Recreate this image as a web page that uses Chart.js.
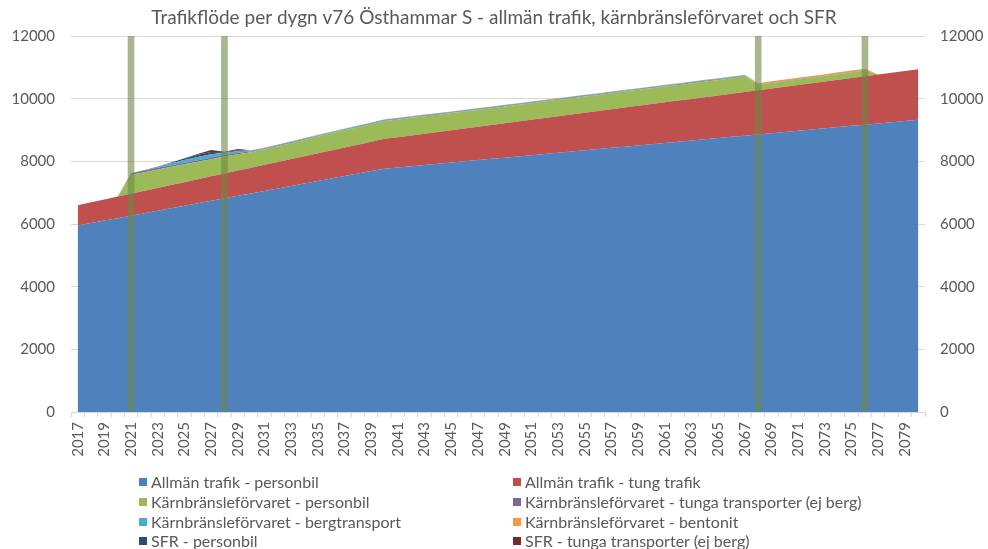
<!DOCTYPE html>
<html>
<head>
<meta charset="utf-8">
<script src="https://cdn.jsdelivr.net/npm/chart.js@4.4.1/dist/chart.umd.min.js"></script>
<style>
  html, body { margin: 0; padding: 0; background: #ffffff; }
  #wrap { position: relative; width: 988px; height: 549px; }
  #c { position: absolute; left: 0; top: 0; }
  .lg { position: absolute; font-family: Lato, "Open Sans", sans-serif; font-size: 16px; color: #595959; white-space: nowrap; line-height: 18px; }
  .sw { position: absolute; width: 8px; height: 8px; }
</style>
</head>
<body>
<div id="wrap">
  <canvas id="c" width="988" height="549"></canvas>
  <div id="legend"></div>
</div>
<script>
const chartTitle = "Trafikflöde per dygn v76 Östhammar S - allmän trafik, kärnbränsleförvaret och SFR";

const years = [2017,2018,2019,2020,2021,2022,2023,2024,2025,2026,2027,2028,2029,2030,2031,2032,
  2033,2034,2035,2036,2037,2038,2039,2040,2041,2042,2043,2044,2045,2046,2047,2048,
  2049,2050,2051,2052,2053,2054,2055,2056,2057,2058,2059,2060,2061,2062,2063,2064,
  2065,2066,2067,2068,2069,2070,2071,2072,2073,2074,2075,2076,2077,2078,2079,2080];

const seriesNames = [
  "Allmän trafik - personbil",
  "Allmän trafik - tung trafik",
  "Kärnbränsleförvaret - personbil",
  "Kärnbränsleförvaret - tunga transporter (ej berg)",
  "Kärnbränsleförvaret - bergtransport",
  "Kärnbränsleförvaret - bentonit",
  "SFR - personbil",
  "SFR - tunga transporter (ej berg)"
];

const allmanPersonbil = [5950,6029,6108,6187,6266,6345,6424,6503,6582,6661,6740,6819,6898,6977,7056,7135,
  7214,7293,7372,7451,7530,7609,7688,7767,7806,7845,7884,7923,7962,8001,8040,8079,
  8118,8157,8196,8235,8274,8313,8352,8391,8430,8469,8508,8547,8586,8625,8664,8703,
  8742,8781,8820,8859,8898,8937,8976,9015,9054,9093,9132,9171,9210,9249,9288,9327];

const allmanTung = [650,663,676,689,702,715,728,741,754,767,780,793,806,819,832,845,
  858,871,884,897,910,923,936,950,966,983,999,1016,1032,1049,1065,1082,
  1098,1115,1131,1148,1164,1181,1197,1214,1230,1247,1263,1280,1296,1313,1329,1346,
  1362,1379,1395,1412,1428,1445,1461,1478,1494,1511,1527,1544,1560,1577,1593,1610];

const kbfPersonbil = [0,0,0,0,600,595,590,580,570,560,550,540,520,490,495,505,
  515,525,535,545,550,555,560,570,565,560,555,550,545,540,540,535,
  535,530,530,525,525,520,520,515,515,510,510,505,505,500,500,500,
  495,495,490,170,172,174,176,178,180,182,184,186,0,0,0,0];

const kbfTunga = [0,0,0,0,50,50,50,50,50,50,50,50,50,30,20,20,
  20,20,20,20,20,20,20,20,20,20,20,20,20,20,20,20,
  20,20,20,20,20,20,20,20,20,20,20,20,20,20,20,20,
  20,20,20,15,15,15,15,15,15,15,15,15,0,0,0,0];

const kbfBerg = [0,0,0,0,0,15,40,65,85,100,110,70,50,30,25,25,
  25,25,25,25,25,25,25,25,25,25,25,25,25,25,25,25,
  25,25,25,25,25,25,25,25,25,25,25,25,25,25,25,25,
  25,25,25,0,0,0,0,0,0,0,0,0,0,0,0,0];

const kbfBentonit = [0,0,0,0,0,0,0,0,0,0,0,0,0,5,10,10,
  10,10,10,10,10,10,10,10,10,10,10,10,10,10,10,10,
  10,10,10,10,10,10,10,10,10,10,10,10,10,10,10,10,
  10,10,10,40,40,40,40,40,40,40,40,40,0,0,0,0];

const sfrPersonbil = [0,0,0,0,0,0,0,20,50,70,70,20,30,0,0,0,
  0,0,0,0,0,0,0,0,0,0,0,0,0,0,0,0,
  0,0,0,0,0,0,0,0,0,0,0,0,0,0,0,0,
  0,0,0,0,0,0,0,0,0,0,0,0,0,0,0,0];

const sfrTunga = [0,0,0,0,0,0,0,0,10,30,60,10,40,0,0,0,
  0,0,0,0,0,0,0,0,0,0,0,0,0,0,0,0,
  0,0,0,0,0,0,0,0,0,0,0,0,0,0,0,0,
  0,0,0,0,0,0,0,0,0,0,0,0,0,0,0,0];

// Years marked by the vertical green bars
const markerYears = [2021, 2028, 2068, 2076];
const markerValue = 12000;

const yTicks = [0, 2000, 4000, 6000, 8000, 10000, 12000];

const seriesValues = [allmanPersonbil, allmanTung, kbfPersonbil, kbfTunga, kbfBerg, kbfBentonit, sfrPersonbil, sfrTunga];
const seriesColors = ["#4F81BD", "#C0504D", "#9BBB59", "#8064A2", "#4BACC6", "#F79646", "#2C4D75", "#772C2A"];

const FONT = "Lato, 'Open Sans', sans-serif";
const TXT = "#595959";

const datasets = seriesValues.map((vals, i) => ({
  type: 'line',
  label: seriesNames[i],
  data: vals,
  yAxisID: 'y',
  backgroundColor: seriesColors[i],
  borderColor: seriesColors[i],
  borderWidth: 0,
  pointRadius: 0,
  tension: 0,
  fill: i === 0 ? 'origin' : '-1',
  order: 1
}));

datasets.push({
  type: 'bar',
  label: 'markers',
  data: years.map(y => markerYears.includes(y) ? markerValue : null),
  yAxisID: 'y2',
  backgroundColor: 'rgba(110,135,70,0.6)',
  borderWidth: 0,
  barThickness: 6,
  order: 0
});

const plainTick = v => String(v);

const chart = new Chart(document.getElementById('c'), {
  type: 'line',
  data: { labels: years, datasets: datasets },
  options: {
    responsive: false,
    animation: false,
    layout: { padding: 0 },
    plugins: {
      legend: { display: false },
      tooltip: { enabled: false },
      title: {
        display: true,
        text: chartTitle,
        color: TXT,
        font: { family: FONT, size: 19, weight: 'normal' },
        padding: { top: 6, bottom: 7.2 }
      }
    },
    scales: {
      x: {
        type: 'category',
        offset: true,
        grid: { offset: true, drawOnChartArea: false, drawTicks: true, tickLength: 5, color: '#D9D9D9' },
        border: { display: true, color: '#D9D9D9' },
        ticks: {
          autoSkip: false, maxRotation: 90, minRotation: 90,
          color: TXT, font: { family: FONT, size: 15 }, padding: 5,
          callback: (v, i) => (i % 2 === 0 ? String(years[i]) : '')
        },
        afterFit: s => { s.height = 137; }
      },
      y: {
        stacked: true,
        min: yTicks[0], max: yTicks[yTicks.length - 1],
        afterBuildTicks: s => { s.ticks = yTicks.map(v => ({ value: v })); },
        ticks: { color: TXT, font: { family: FONT, size: 15 }, padding: 16, callback: plainTick },
        grid: { color: '#D9D9D9', drawTicks: false },
        border: { display: false },
        afterFit: s => { s.width = 71; }
      },
      y2: {
        position: 'right',
        min: yTicks[0], max: yTicks[yTicks.length - 1],
        afterBuildTicks: s => { s.ticks = yTicks.map(v => ({ value: v })); },
        ticks: { color: TXT, font: { family: FONT, size: 15 }, padding: 15, callback: plainTick },
        grid: { display: false, drawTicks: false },
        border: { display: false },
        afterFit: s => { s.width = 63; }
      }
    }
  }
});

// Two-column legend built from the chart's line datasets
const legendEl = document.getElementById('legend');
const colX = [139, 513];
const rowY = [482, 502, 522, 541];
chart.data.datasets.forEach((ds, i) => {
  if (ds.type !== 'line') return;
  const col = i % 2, row = Math.floor(i / 2);
  const sw = document.createElement('div');
  sw.className = 'sw';
  sw.style.left = colX[col] + 'px';
  sw.style.top = (rowY[row] - 4) + 'px';
  sw.style.background = ds.backgroundColor;
  legendEl.appendChild(sw);
  const t = document.createElement('div');
  t.className = 'lg';
  t.style.left = (colX[col] + 12) + 'px';
  t.style.top = (rowY[row] - 9) + 'px';
  t.textContent = ds.label;
  legendEl.appendChild(t);
});
</script>
</body>
</html>
